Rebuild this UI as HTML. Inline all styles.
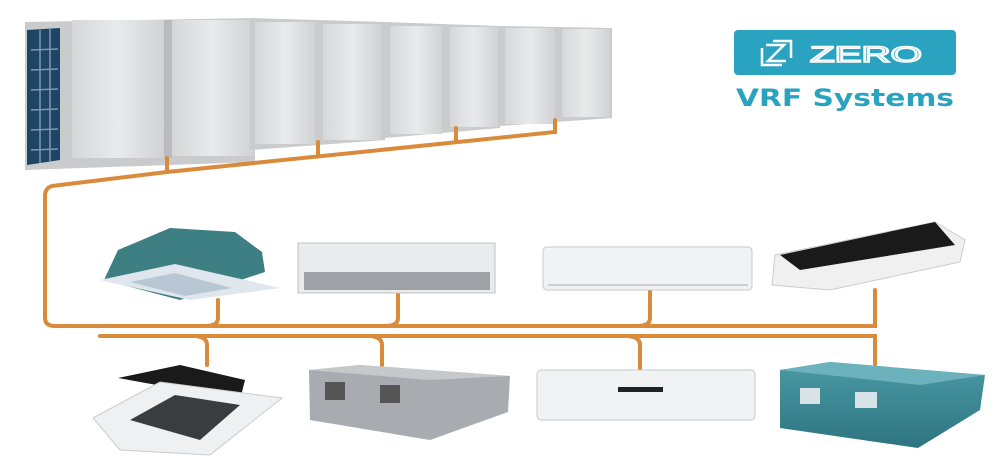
<!DOCTYPE html>
<html><head><style>
html,body{margin:0;padding:0;background:#fff;width:1000px;height:456px;overflow:hidden}
</style></head><body>
<svg width="1000" height="456" viewBox="0 0 1000 456" xmlns="http://www.w3.org/2000/svg">
<defs>
<linearGradient id="pan" x1="0" x2="1"><stop offset="0" stop-color="#d5d7d9"/><stop offset="0.5" stop-color="#e9eaeb"/><stop offset="1" stop-color="#d0d2d4"/></linearGradient>
<linearGradient id="teal" x1="0" y1="0" x2="0" y2="1"><stop offset="0" stop-color="#4a9aa5"/><stop offset="1" stop-color="#2d7480"/></linearGradient>
</defs>
<!-- outdoor units -->
<polygon points="25,22 255,18 255,162 25,170" fill="#c9cbcd"/>
<polygon points="27,30 60,28 60,160 27,165" fill="#1f4566"/>
<g stroke="#7f99ad" stroke-width="1.5">
<line x1="31" y1="50" x2="58" y2="49"/><line x1="31" y1="70" x2="58" y2="69"/><line x1="31" y1="90" x2="58" y2="89"/><line x1="31" y1="110" x2="58" y2="109"/><line x1="31" y1="130" x2="58" y2="129"/><line x1="31" y1="150" x2="58" y2="149"/>
<line x1="40" y1="30" x2="40" y2="163"/><line x1="50" y1="29" x2="50" y2="162"/></g>
<rect x="72" y="20" width="92" height="138" fill="url(#pan)"/>
<rect x="172" y="20" width="82" height="136" fill="url(#pan)"/>
<rect x="164" y="20" width="8" height="138" fill="#b9bbbd"/>
<polygon points="250,18 385,22 385,140 250,150" fill="#c9cbcd"/>
<rect x="255" y="22" width="60" height="122" fill="url(#pan)"/>
<rect x="323" y="24" width="58" height="116" fill="url(#pan)"/>
<polygon points="385,22 500,26 500,128 385,138" fill="#c9cbcd"/>
<rect x="390" y="26" width="52" height="108" fill="url(#pan)"/>
<rect x="450" y="27" width="48" height="100" fill="url(#pan)"/>
<polygon points="500,26 612,28 612,118 500,126" fill="#c9cbcd"/>
<rect x="505" y="28" width="50" height="96" fill="url(#pan)"/>
<rect x="562" y="29" width="48" height="88" fill="url(#pan)"/>
<!-- pipes -->
<g fill="none" stroke="#d98a3a" stroke-width="4" stroke-linecap="round">
<path d="M167,158 V172 L555,132 V120"/>
<path d="M318,142 V156"/><path d="M456,128 V142"/>
<path d="M167,172 L52,186 Q45,188 45,196 V318 Q45,326 55,326 H875 V290"/>
<path d="M100,336 H875 V365"/>
<path d="M218,300 V318 Q218,326 205,326"/>
<path d="M398,293 V318 Q398,326 385,326"/>
<path d="M650,290 V318 Q650,326 637,326"/>
<path d="M207,365 V345 Q207,337 195,336"/>
<path d="M382,365 V345 Q382,337 370,336"/>
<path d="M640,370 V345 Q640,337 628,336"/>
</g>
<!-- top indoor -->
<polygon points="118,250 170,228 235,232 262,252 265,272 180,300 104,280" fill="#3d7f82"/>
<polygon points="100,280 175,264 280,288 190,300" fill="#dfe6ee"/>
<polygon points="130,282 175,273 232,288 185,296" fill="#b9c6d3"/>
<rect x="298" y="243" width="197" height="50" fill="#e9ebed" stroke="#bfc2c5"/>
<rect x="304" y="272" width="186" height="18" fill="#9ea2a6"/>
<rect x="543" y="247" width="209" height="43" rx="4" fill="#f1f2f3" stroke="#c5c8cb"/>
<line x1="548" y1="285" x2="748" y2="285" stroke="#aaa"/>
<polygon points="775,255 935,222 965,240 960,262 830,290 772,285" fill="#f0f0f0" stroke="#ccc"/>
<polygon points="780,255 935,222 955,245 800,270" fill="#1a1a1a"/>
<!-- bottom indoor -->
<polygon points="118,378 180,365 245,380 240,400" fill="#1a1a1a"/>
<polygon points="93,418 160,382 282,398 210,455 120,450" fill="#eef0f2" stroke="#ccc"/>
<polygon points="130,420 175,395 240,405 200,440" fill="#3a3d40"/>
<polygon points="309,370 360,365 510,376 508,412 430,440 310,420" fill="#a8acb0"/>
<polygon points="309,370 360,365 510,376 430,380" fill="#c6c9cc"/>
<rect x="325" y="382" width="20" height="18" fill="#555"/><rect x="380" y="385" width="20" height="18" fill="#555"/>
<rect x="537" y="370" width="218" height="50" rx="4" fill="#f1f2f3" stroke="#c5c8cb"/>
<rect x="618" y="387" width="45" height="5" fill="#222"/>
<polygon points="780,370 830,362 985,375 980,410 918,448 780,428" fill="url(#teal)"/>
<polygon points="780,370 830,362 985,375 920,385" fill="#6bb2bc"/>
<rect x="800" y="388" width="20" height="16" fill="#d7e3e6"/><rect x="855" y="392" width="22" height="16" fill="#d7e3e6"/>
<!-- logo -->
<rect x="734" y="30" width="222" height="45" rx="4" fill="#2aa3c1"/>
<g fill="none" stroke="#fff" stroke-width="2.5"><path d="M766,45 H784 L768,61 H786"/><path d="M762,48 V65 H782"/><path d="M773,41 H791 V58"/></g>
<text x="810" y="62" font-family="Liberation Sans, sans-serif" font-size="22" fill="none" stroke="#fff" stroke-width="1.6" textLength="112" lengthAdjust="spacingAndGlyphs">ZERO</text>
<text x="736" y="106" font-family="DejaVu Sans, sans-serif" font-weight="bold" font-size="24" fill="#2aa3c1" textLength="218" lengthAdjust="spacingAndGlyphs">VRF Systems</text>
</svg>
</body></html>
